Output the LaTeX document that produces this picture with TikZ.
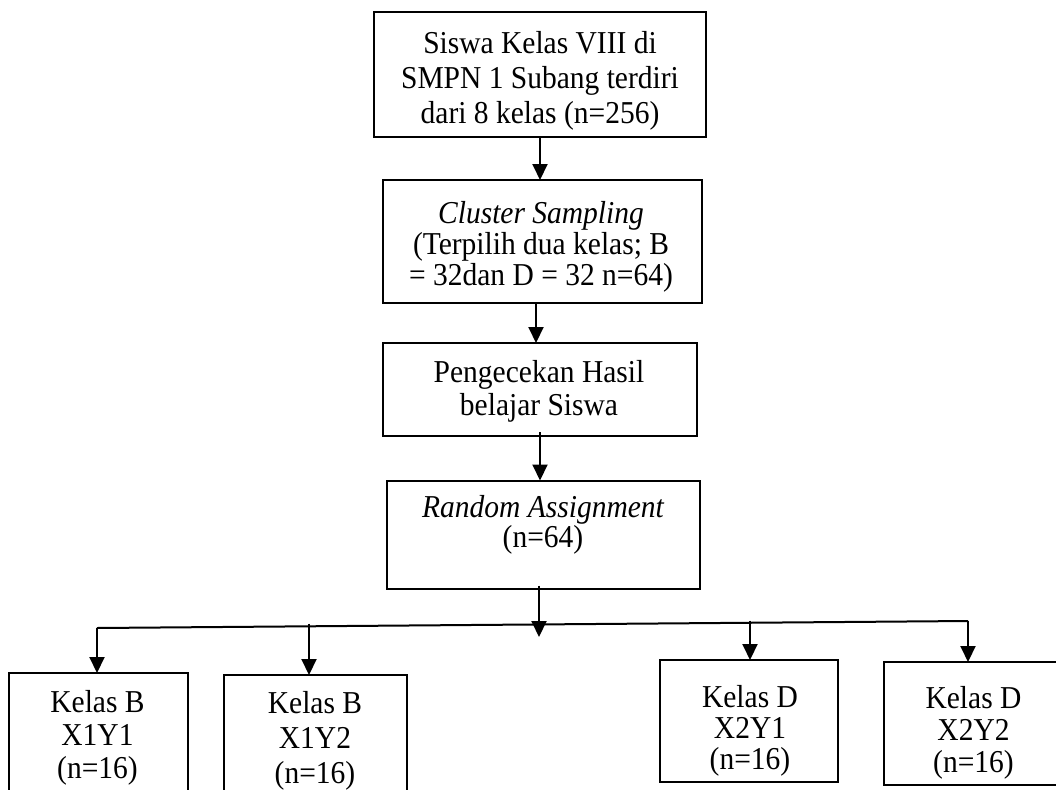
\documentclass[tikz,border=0pt]{standalone}
\usepackage{fontspec}
\usepackage{graphicx}
\setmainfont{Liberation Serif}
\usetikzlibrary{arrows.meta}
\newcommand\stk[2]{\scalebox{1}[1.08]{\vbox{\fontsize{29.5}{#1}\selectfont\lineskiplimit=-30pt\relax\halign{\hfil##\hfil\cr#2\crcr}}}}
\begin{document}
\begin{tikzpicture}[x=1pt,y=-1pt,
  box/.style={draw, line width=2pt, inner sep=0pt, outer sep=0pt},
  txt/.style={inner sep=0pt, anchor=north},
  arr/.style={line width=2pt, -{Triangle[width=15pt,length=16pt]}},
  ln/.style={line width=2pt}]
\clip (0,0) rectangle (1056,789);
% boxes
\node[box, minimum width=332pt, minimum height=125pt] (b1) at (540,74.5) {};
\node[box, minimum width=319pt, minimum height=123pt] (b2) at (542.5,241.5) {};
\node[box, minimum width=314pt, minimum height=93pt] (b3) at (540,389.5) {};
\node[box, minimum width=313pt, minimum height=108pt] (b4) at (543,534.5) {};
\node[box, minimum width=179pt, minimum height=137pt] (k1) at (98.5,741.5) {};
\node[box, minimum width=183pt, minimum height=135pt] (k2) at (315.5,742.5) {};
\node[box, minimum width=178pt, minimum height=122pt] (k3) at (749,721) {};
\node[box, minimum width=179pt, minimum height=123pt] (k4) at (973.5,723.5) {};
% texts
\node[txt] (t1) at (540,31.2) {\stk{32.4}{Siswa Kelas VIII di\cr SMPN 1 Subang terdiri\cr dari 8 kelas (n=256)}};
\node[txt] (t2) at (541,200.9) {\stk{28.7}{{\itshape Cluster Sampling}\cr (Terpilih dua kelas; B\cr = 32dan D = 32 n=64)}};
\node[txt] (t3) at (539,359.9) {\stk{30.6}{Pengecekan Hasil\cr belajar Siswa}};
\node[txt] (t4) at (543,494.9) {\stk{28}{{\itshape Random Assignment}\cr (n=64)}};
\node[txt] (s1) at (97.5,690.2) {\stk{30.6}{Kelas B\cr X1Y1\cr (n=16)}};
\node[txt] (s2) at (315,691.2) {\stk{32.4}{Kelas B\cr X1Y2\cr (n=16)}};
\node[txt] (s3) at (750,685.2) {\stk{28.7}{Kelas D\cr X2Y1\cr (n=16)}};
\node[txt] (s4) at (973.5,686.2) {\stk{29.6}{Kelas D\cr X2Y2\cr (n=16)}};
% connectors
\draw[arr] (b1.south) -- (b1.south |- b2.north);
\draw[arr] ([xshift=-6.5pt]b2.south) -- ([xshift=-6.5pt]b2.south |- b3.north);
\draw[arr] ([yshift=4pt]b3.south) -- (b3.south |- b4.north);
\coordinate (j) at (539,637);
\draw[arr] ([xshift=-4pt,yshift=3pt]b4.south) -- (j);
\coordinate (hl) at (97,628);
\coordinate (hr) at (968,621);
\coordinate (c2) at (309,623.5);
\coordinate (c3) at (750,620.5);
\draw[ln] (hl) -- (hr);
\draw[arr] (hl) -- (hl |- k1.north);
\draw[arr] (c2) -- (c2 |- k2.north);
\draw[arr] (c3) -- (c3 |- k3.north);
\draw[arr] (hr) -- (hr |- k4.north);
\end{tikzpicture}
\end{document}
